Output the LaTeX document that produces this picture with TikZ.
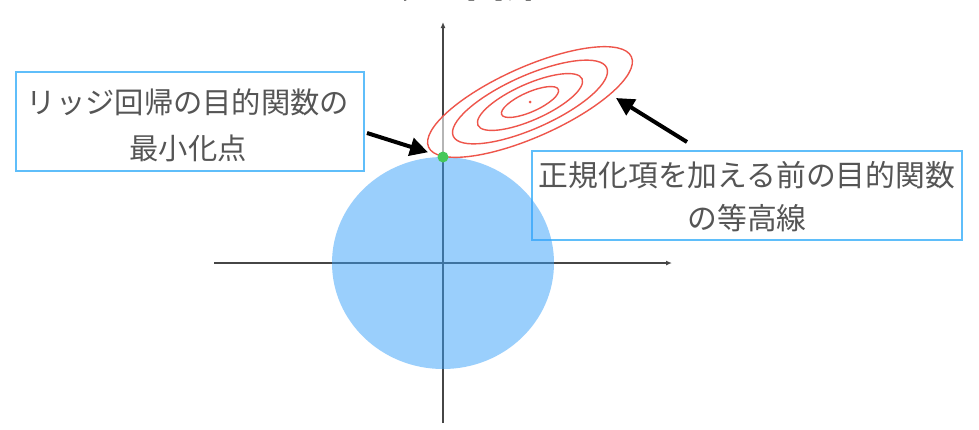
\documentclass[tikz,border=0pt]{standalone}
\usepackage{fontspec}
\setmainfont{Noto Sans CJK JP}
\usetikzlibrary{arrows.meta}
\definecolor{axisgray}{RGB}{70,70,70}
\definecolor{boxblue}{RGB}{95,190,250}
\definecolor{txtgray}{RGB}{85,85,85}
\definecolor{circblue}{RGB}{55,160,250}
\definecolor{contred}{RGB}{238,85,75}
\definecolor{dotgreen}{RGB}{70,200,90}
\tikzset{
  axisline/.style={draw=axisgray, line width=1.2pt, -{Latex[length=6pt,width=5pt]}},
  framebox/.style={draw=boxblue, line width=1.8pt, inner sep=0pt},
  labeltext/.style={text=txtgray, align=center, inner sep=0pt},
  contour/.style={draw=contred, line width=1.4pt},
  bigarrow/.style={draw=black, line width=4pt, -{Triangle[length=18pt,width=18pt]}},
}
\begin{document}
\begin{tikzpicture}[x=1pt,y=1pt]
\useasboundingbox (0,0) rectangle (979,-429);
\fill[white] (0,0) rectangle (979,-429);
% title (cut off at the top edge)
\node[anchor=base, inner sep=0pt, text={rgb,255:red,40;green,40;blue,40}, font=\fontsize{38}{38}\bfseries\selectfont] (title) at (447,3) {リッジ回帰};
% axes
\draw[axisline] (214,-263) -- (672,-263);
\draw[axisline] (443,-423) -- (443,-22);
% boxes
\node[framebox, minimum width=348pt, minimum height=99pt] (lbox) at (190,-121.5) {};
\node[labeltext, font=\fontsize{29.3}{46}\selectfont] (ltext) at (188,-125) {リッジ回帰の目的関数の\\最小化点};
\node[framebox, minimum width=430pt, minimum height=89pt] (rbox) at (747,-195.5) {};
\node[labeltext, font=\fontsize{29.8}{43}\selectfont] (rtext) at (747,-196.5) {正規化項を加える前の目的関数\\の等高線};
% constraint region
\fill[circblue, fill opacity=0.5] (443,-263) ellipse [x radius=111pt, y radius=106pt];
% contours
\begin{scope}[shift={(530,-102)}, rotate=24]
  \draw[contour, fill=white, fill opacity=0.6] (0,0) ellipse [x radius=111pt, y radius=35pt];
  \draw[contour] (0,0) ellipse [x radius=84pt, y radius=26.5pt];
  \draw[contour] (0,0) ellipse [x radius=57pt, y radius=18pt];
  \draw[contour] (0,0) ellipse [x radius=31pt, y radius=9.8pt];
\end{scope}
\node[circle, fill=contred, minimum size=3pt, inner sep=0pt] (center) at (530,-102) {};
\node[circle, fill=dotgreen, minimum size=11pt, inner sep=0pt] (dot) at (443,-157) {};
% arrows
\coordinate (la) at (367,-133);
\draw[bigarrow, shorten >=10pt] (la) -- (dot);
\coordinate (ra) at (687,-142);
\coordinate (rt) at (616,-98);
\draw[bigarrow] (ra) -- (rt);
\end{tikzpicture}
\end{document}
